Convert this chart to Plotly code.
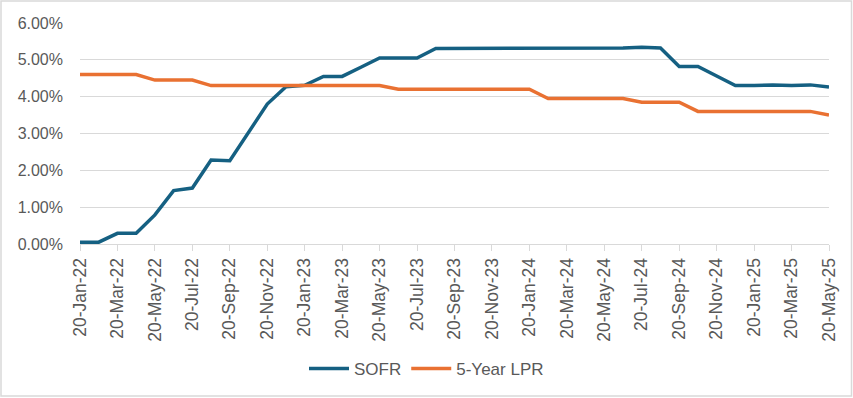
import plotly.graph_objects as go

months = ["20-Jan-22","20-Feb-22","20-Mar-22","20-Apr-22","20-May-22","20-Jun-22","20-Jul-22","20-Aug-22",
          "20-Sep-22","20-Oct-22","20-Nov-22","20-Dec-22","20-Jan-23","20-Feb-23","20-Mar-23","20-Apr-23",
          "20-May-23","20-Jun-23","20-Jul-23","20-Aug-23","20-Sep-23","20-Oct-23","20-Nov-23","20-Dec-23",
          "20-Jan-24","20-Feb-24","20-Mar-24","20-Apr-24","20-May-24","20-Jun-24","20-Jul-24","20-Aug-24",
          "20-Sep-24","20-Oct-24","20-Nov-24","20-Dec-24","20-Jan-25","20-Feb-25","20-Mar-25","20-Apr-25",
          "20-May-25"]

sofr = [0.05, 0.05, 0.29, 0.29, 0.79, 1.45, 1.52, 2.28, 2.26, 3.04, 3.80, 4.27, 4.31, 4.55, 4.55, 4.80,
        5.05, 5.05, 5.05, 5.31, 5.31, 5.31, 5.31, 5.31, 5.31, 5.31, 5.31, 5.31, 5.31, 5.32, 5.34, 5.32,
        4.82, 4.82, 4.56, 4.30, 4.30, 4.32, 4.30, 4.32, 4.26]

lpr = [4.60, 4.60, 4.60, 4.60, 4.45, 4.45, 4.45, 4.30, 4.30, 4.30, 4.30, 4.30, 4.30, 4.30, 4.30, 4.30,
       4.30, 4.20, 4.20, 4.20, 4.20, 4.20, 4.20, 4.20, 4.20, 3.95, 3.95, 3.95, 3.95, 3.95, 3.85, 3.85,
       3.85, 3.60, 3.60, 3.60, 3.60, 3.60, 3.60, 3.60, 3.50]

tick_labels = ["20-Jan-22","20-Mar-22","20-May-22","20-Jul-22","20-Sep-22","20-Nov-22","20-Jan-23",
               "20-Mar-23","20-May-23","20-Jul-23","20-Sep-23","20-Nov-23","20-Jan-24","20-Mar-24",
               "20-May-24","20-Jul-24","20-Sep-24","20-Nov-24","20-Jan-25","20-Mar-25","20-May-25"]

y_ticks = [0, 1, 2, 3, 4, 5, 6]
y_tick_text = ["0.00%", "1.00%", "2.00%", "3.00%", "4.00%", "5.00%", "6.00%"]

W, H = 853, 398
ML, MR, MT, MB = 80, 24, 23, 154
FONT = "Liberation Sans"
GRAY = "#595959"
GRID = "#D9D9D9"

fig = go.Figure()
fig.add_trace(go.Scatter(x=months, y=sofr, mode="lines", name="SOFR",
                         line=dict(color="#156082", width=3.5)))
fig.add_trace(go.Scatter(x=months, y=lpr, mode="lines", name="5-Year LPR",
                         line=dict(color="#E97132", width=3.5)))

pw = W - ML - MR
ph = H - MT - MB
fig.add_shape(type="rect", xref="paper", yref="paper",
              x0=(1 - ML) / pw, x1=(W - 1.5 - ML) / pw,
              y0=-(MB - 2) / ph, y1=1 + (MT - 1) / ph,
              line=dict(color=GRID, width=1.5), fillcolor="rgba(0,0,0,0)", layer="below")

fig.update_layout(
    width=W, height=H,
    margin=dict(l=ML, r=MR, t=MT, b=MB, autoexpand=False),
    paper_bgcolor="white", plot_bgcolor="white",
    font=dict(family=FONT, size=16, color=GRAY),
    showlegend=True,
    legend=dict(orientation="h", xref="container", yref="container",
                x=0.5, xanchor="center", y=(H - 369) / H, yanchor="middle",
                font=dict(family=FONT, size=17, color=GRAY),
                itemwidth=40, tracegroupgap=0),
    xaxis=dict(type="category", range=[0, len(months) - 1], automargin=False,
               tickmode="array", tickvals=tick_labels, ticktext=tick_labels,
               tickangle=-90, ticks="outside", ticklen=6, tickcolor=GRID, tickwidth=1,
               showgrid=False, showline=True, linecolor=GRID, linewidth=1,
               tickfont=dict(family=FONT, size=17.5, color=GRAY), zeroline=False),
    yaxis=dict(range=[0, 6], tickmode="array", tickvals=y_ticks, ticktext=y_tick_text,
               automargin=False,
               showgrid=True, gridcolor=GRID, gridwidth=1, zeroline=False,
               showline=False, ticks="", ticklabelstandoff=16,
               tickfont=dict(family=FONT, size=16, color=GRAY)),
)

fig.write_html("out.html", config={"displayModeBar": False},
               post_script="document.body.style.margin='0';document.body.style.overflow='hidden';")
